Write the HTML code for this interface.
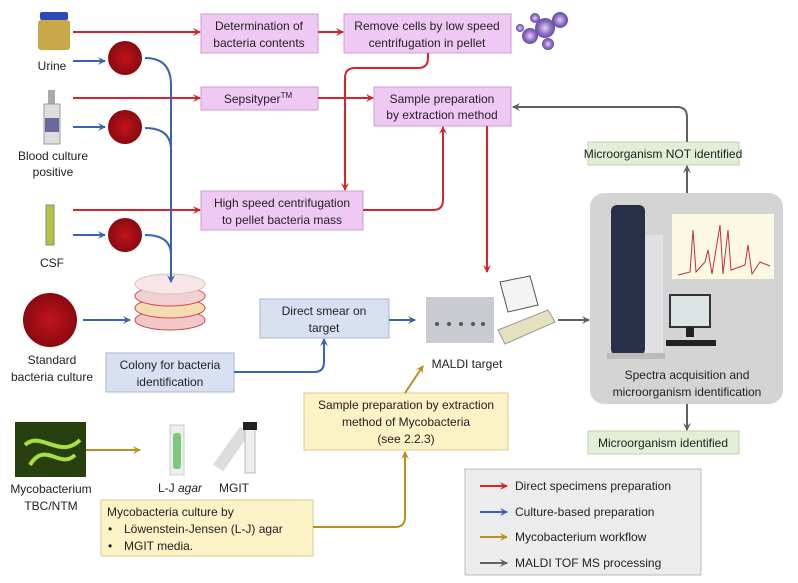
<!DOCTYPE html><html><head><style>body{margin:0;background:#fff}svg{display:block;font-family:"Liberation Sans",sans-serif}</style></head><body>
<svg width="798" height="583" viewBox="0 0 798 583" xmlns="http://www.w3.org/2000/svg">
<defs>
<marker id="r" markerWidth="8" markerHeight="8" refX="7" refY="4" orient="auto" markerUnits="userSpaceOnUse"><path d="M0,0 L8,4 L0,8 L3,4z" fill="#d8242a"/></marker>
<marker id="b" markerWidth="8" markerHeight="8" refX="7" refY="4" orient="auto" markerUnits="userSpaceOnUse"><path d="M0,0 L8,4 L0,8 L3,4z" fill="#3a62b0"/></marker>
<marker id="y" markerWidth="8" markerHeight="8" refX="7" refY="4" orient="auto" markerUnits="userSpaceOnUse"><path d="M0,0 L8,4 L0,8 L3,4z" fill="#b8901e"/></marker>
<marker id="g" markerWidth="8" markerHeight="8" refX="7" refY="4" orient="auto" markerUnits="userSpaceOnUse"><path d="M0,0 L8,4 L0,8 L3,4z" fill="#606060"/></marker>
<radialGradient id="pl"><stop offset="0" stop-color="#c0141c"/><stop offset="1" stop-color="#8a0a10"/></radialGradient>
<radialGradient id="cl"><stop offset="0" stop-color="#f0d0f0"/><stop offset="0.6" stop-color="#9070c8"/><stop offset="1" stop-color="#6050a0"/></radialGradient>
</defs>
<g font-size="12" fill="#222" text-anchor="middle">
<rect x="40" y="12" width="28" height="8" fill="#2a4ab8" rx="2"/><rect x="38" y="20" width="32" height="30" fill="#c8a848" rx="3"/>
<text x="52" y="70">Urine</text>
<rect x="48" y="90" width="7" height="14" fill="#aaa"/><rect x="44" y="104" width="16" height="40" fill="#ddd" stroke="#999"/><rect x="45" y="118" width="14" height="14" fill="#6a6a9a"/>
<text x="53" y="160">Blood culture</text><text x="53" y="176">positive</text>
<rect x="46" y="205" width="8" height="40" fill="#b8c040" stroke="#888"/>
<text x="52" y="267">CSF</text>
<circle cx="125" cy="58" r="17" fill="url(#pl)"/><circle cx="125" cy="127" r="17" fill="url(#pl)"/><circle cx="125" cy="235" r="17" fill="url(#pl)"/>
<circle cx="50" cy="320" r="27" fill="url(#pl)"/>
<text x="52" y="364">Standard</text><text x="52" y="381">bacteria culture</text>
<g><ellipse cx="170" cy="320" rx="35" ry="10" fill="#f0c8c8" stroke="#d04050"/><ellipse cx="170" cy="308" rx="35" ry="10" fill="#f4dcb0" stroke="#d04050"/><ellipse cx="170" cy="296" rx="35" ry="10" fill="#f0d0d0" stroke="#d84050"/><ellipse cx="170" cy="284" rx="35" ry="10" fill="#f6e6e6" stroke="#e0c0c0"/></g>
<g><circle cx="530" cy="36" r="8" fill="url(#cl)"/><circle cx="545" cy="28" r="10" fill="url(#cl)"/><circle cx="560" cy="20" r="8" fill="url(#cl)"/><circle cx="548" cy="44" r="6" fill="url(#cl)"/><circle cx="535" cy="18" r="5" fill="url(#cl)"/><circle cx="520" cy="28" r="4" fill="url(#cl)"/></g>
<rect x="15" y="422" width="71" height="55" fill="#284010"/><path d="M25,445 C40,430 60,460 80,440 M30,465 C45,440 60,470 75,455" stroke="#a8e040" stroke-width="4" fill="none"/>
<text x="51" y="493">Mycobacterium</text><text x="51" y="510">TBC/NTM</text>
<rect x="170" y="425" width="14" height="50" fill="#eee" stroke="#ccc"/><rect x="173" y="433" width="8" height="36" fill="#7cc87c" rx="3"/>
<path d="M218,468 L245,430" stroke="#ddd" stroke-width="12"/><rect x="245" y="428" width="10" height="45" fill="#eee" stroke="#bbb"/><rect x="243" y="422" width="14" height="8" fill="#222"/>
<text x="180" y="492">L-J <tspan font-style="italic">agar</tspan></text><text x="234" y="492">MGIT</text>
<g fill="#f0c8f4" stroke="#c8a0cc"><rect x="201" y="14" width="117" height="39"/><rect x="344" y="14" width="167" height="39"/><rect x="201" y="87" width="117" height="23"/><rect x="374" y="87" width="137" height="39"/><rect x="201" y="191" width="162" height="39"/></g>
<text x="259" y="30">Determination of</text><text x="259" y="47">bacteria contents</text>
<text x="427" y="30">Remove cells by low speed</text><text x="427" y="47">centrifugation in pellet</text>
<text x="258" y="103">Sepsityper<tspan font-size="8" dy="-5">TM</tspan></text>
<text x="442" y="103">Sample preparation</text><text x="442" y="119">by extraction method</text>
<text x="282" y="207">High speed centrifugation</text><text x="282" y="224">to pellet bacteria mass</text>
<g fill="#d8e0f2" stroke="#a8b4d0"><rect x="260" y="299" width="129" height="39"/><rect x="106" y="353" width="128" height="39"/></g>
<text x="324" y="315">Direct smear on</text><text x="324" y="332">target</text>
<text x="170" y="369">Colony for bacteria</text><text x="170" y="386">identification</text>
<g fill="#fbf2c6" stroke="#d8cc90"><rect x="304" y="393" width="204" height="57"/><rect x="101" y="500" width="212" height="56"/></g>
<text x="406" y="409">Sample preparation by extraction</text><text x="406" y="426">method of Mycobacteria</text><text x="406" y="443">(see 2.2.3)</text>
<g text-anchor="start"><text x="107" y="516">Mycobacteria culture by</text><text x="108" y="533">•</text><text x="124" y="533">Löwenstein-Jensen (L-J) agar</text><text x="108" y="550">•</text><text x="124" y="550">MGIT media.</text></g>
<rect x="590" y="193" width="193" height="211" rx="14" fill="#d4d4d4"/>
<rect x="611" y="205" width="34" height="150" rx="6" fill="#2a3048"/><rect x="645" y="235" width="18" height="120" fill="#e0e0e4"/><rect x="607" y="353" width="58" height="6" fill="#bbb"/>
<rect x="672" y="214" width="102" height="65" fill="#fbf8e4"/><path d="M678,275 L690,272 L693,230 L696,272 L705,262 L708,250 L712,274 L720,225 L723,274 L728,230 L731,270 L745,265 L748,245 L752,274 L760,262 L770,266" stroke="#c03040" fill="none"/>
<rect x="670" y="295" width="40" height="32" fill="#dde4e4" stroke="#333" stroke-width="2"/><rect x="686" y="327" width="8" height="10" fill="#222"/><rect x="666" y="340" width="50" height="6" fill="#222"/>
<text x="687" y="379">Spectra acquisition and</text><text x="687" y="396">microorganism identification</text>
<g fill="#e2eed6" stroke="#c0d0b0"><rect x="588" y="142" width="151" height="23"/><rect x="588" y="431" width="151" height="23"/></g>
<text x="663" y="158">Microorganism NOT identified</text><text x="663" y="447">Microorganism identified</text>
<rect x="426" y="297" width="68" height="46" fill="#c8ccd0"/><g fill="#555"><circle cx="437" cy="324" r="2"/><circle cx="449" cy="324" r="2"/><circle cx="461" cy="324" r="2"/><circle cx="473" cy="324" r="2"/><circle cx="483" cy="324" r="2"/></g>
<path d="M500,282 L530,276 L538,305 L508,312z" fill="#f4f4f4" stroke="#555"/><path d="M498,330 L548,310 L555,322 L505,344z" fill="#e4e0c0" stroke="#999"/>
<text x="467" y="368">MALDI target</text>
<rect x="465" y="469" width="236" height="106" fill="#ececec" stroke="#bbb"/>
<g text-anchor="start"><text x="515" y="490">Direct specimens preparation</text><text x="515" y="516">Culture-based preparation</text><text x="515" y="541">Mycobacterium workflow</text><text x="515" y="567">MALDI TOF MS processing</text></g>
</g>
<g fill="none" stroke-width="2">
<g stroke="#d8242a" marker-end="url(#r)">
<path d="M73,32 H200"/><path d="M318,32 H343"/><path d="M73,98 H200"/><path d="M318,98 H373"/><path d="M73,210 H200"/>
<path d="M428,53 V58 Q428,68 418,68 H355 Q345,68 345,78 V190"/>
<path d="M363,210 H433 Q443,210 443,200 V127"/>
<path d="M487,126 V272"/>
<line x1="480" y1="486" x2="507" y2="486"/>
</g>
<g stroke="#3a62b0">
<path d="M73,61 H105" marker-end="url(#b)"/><path d="M73,127 H105" marker-end="url(#b)"/><path d="M73,235 H105" marker-end="url(#b)"/>
<path d="M145,58 Q171,58 171,85 V282" marker-end="url(#b)"/><path d="M145,128 Q171,128 171,150"/><path d="M145,235 Q171,235 171,255"/>
<path d="M83,320 H130" marker-end="url(#b)"/>
<path d="M234,372 H314 Q324,372 324,362 V339" marker-end="url(#b)"/>
<path d="M389,320 H415" marker-end="url(#b)"/>
<line x1="480" y1="512" x2="507" y2="512" marker-end="url(#b)"/>
</g>
<g stroke="#b8901e">
<path d="M86,450 H140" marker-end="url(#y)"/>
<path d="M313,527 H395 Q405,527 405,517 V452" marker-end="url(#y)"/>
<path d="M405,393 L423,366" marker-end="url(#y)"/>
<line x1="480" y1="537" x2="507" y2="537" marker-end="url(#y)"/>
</g>
<g stroke="#606060">
<path d="M558,320 H589" marker-end="url(#g)"/>
<path d="M687,193 V166" marker-end="url(#g)"/>
<path d="M687,142 V117 Q687,107 677,107 H513" marker-end="url(#g)"/>
<path d="M687,404 V430" marker-end="url(#g)"/>
<line x1="480" y1="563" x2="507" y2="563" marker-end="url(#g)"/>
</g>
</g>
</svg></body></html>
